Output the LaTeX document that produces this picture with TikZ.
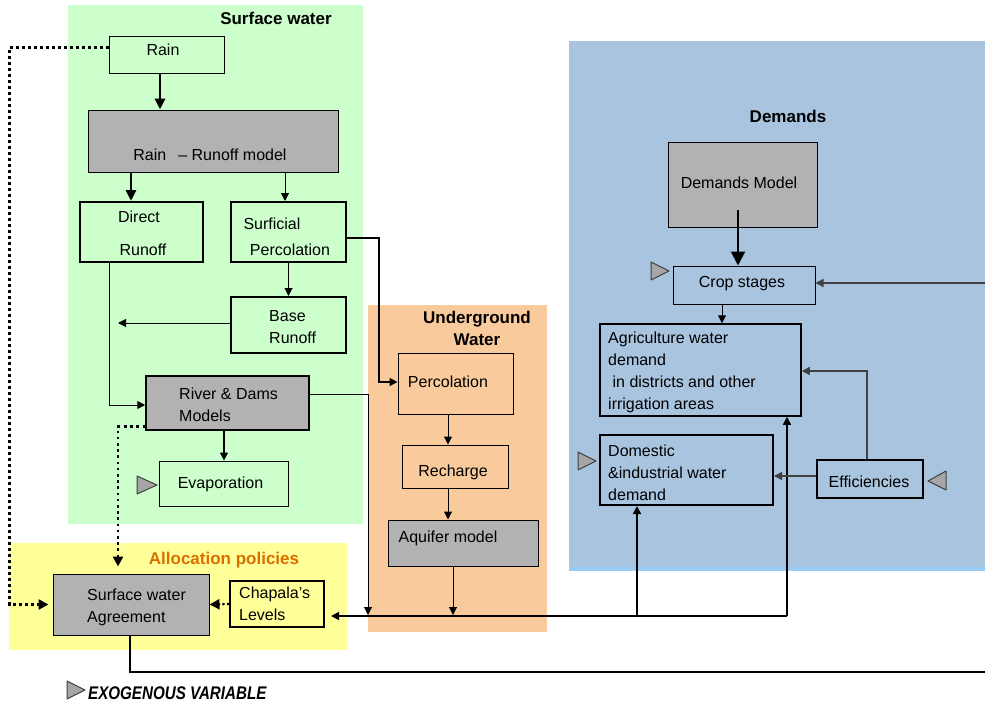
\documentclass[tikz,border=0pt]{standalone}
\usepackage{fontspec}
\setmainfont{Liberation Sans}
\usetikzlibrary{arrows.meta}
\definecolor{swgreen}{HTML}{CCFFCC}
\definecolor{dmblue}{HTML}{A9C4DF}
\definecolor{dmstrip}{HTML}{9CCBF5}
\definecolor{ugorange}{HTML}{F9CA9C}
\definecolor{apyellow}{HTML}{FFFF99}
\definecolor{modgray}{HTML}{B2B2B2}
\definecolor{exogray}{HTML}{A6A6A6}
\definecolor{aporange}{HTML}{DD6E00}
\definecolor{darkline}{HTML}{404040}
\begin{document}
\begin{tikzpicture}[x=1pt,y=-1pt,
  box/.style={draw=black, line width=1pt, inner sep=0pt},
  lbl/.style={inner sep=0pt, font=\fontsize{16}{22}\selectfont},
  ttl/.style={inner sep=0pt, font=\fontsize{17}{22}\selectfont\bfseries, align=center},
  arr/.style={-{Triangle[length=8pt,width=8pt]}, line width=1pt},
  bigarr/.style={-{Triangle[length=11pt,width=10pt]}, line width=2.8pt},
  dotA/.style={line width=3pt, dash pattern=on 3pt off 3pt, -{Triangle[length=10pt,width=10pt]}},
  dotB/.style={line width=2.6pt, dash pattern=on 2.6pt off 3.6pt, -{Triangle[length=10pt,width=10pt]}},
  exo/.style={fill=exogray, draw=darkline, line width=1pt, line join=round}]
\useasboundingbox (0,0) rectangle (985,704);
% panels
\fill[swgreen] (68,5) rectangle (363,524);
\fill[dmblue] (569,41) rectangle (985,567);
\fill[dmstrip] (569,567) rectangle (985,571);
\fill[ugorange] (368,305) rectangle (547,632);
\fill[apyellow] (9,543) rectangle (347,650);
% titles
\node[ttl] (tsw) at (276,18) {Surface water};
\node[ttl] (tdm) at (788,116) {Demands};
\node[ttl] (tug) at (477,328) {Underground\\Water};
\node[ttl, text=aporange] (tap) at (224,560) {Allocation policies};
% boxes
\node[box, fill=swgreen, minimum width=115pt, minimum height=37pt] (rain) at (166.5,54.5) {};
\node[box, fill=modgray, minimum width=250pt, minimum height=62pt] (rr) at (213,141) {};
\node[box, fill=swgreen, line width=2pt, minimum width=123pt, minimum height=60pt] (direct) at (141.5,232) {};
\node[box, fill=swgreen, line width=2pt, minimum width=115pt, minimum height=60pt] (surf) at (288.5,232) {};
\node[box, fill=swgreen, line width=2pt, minimum width=115pt, minimum height=56pt] (base) at (288.5,325) {};
\node[box, fill=modgray, line width=1.5pt, minimum width=163pt, minimum height=54pt] (river) at (227.5,403) {};
\node[box, fill=swgreen, minimum width=129pt, minimum height=45pt] (evap) at (223.5,483.5) {};
\node[box, fill=ugorange, minimum width=115pt, minimum height=61pt] (perc) at (455.5,383.5) {};
\node[box, fill=ugorange, minimum width=106pt, minimum height=43pt] (rech) at (455,466.5) {};
\node[box, fill=modgray, minimum width=150pt, minimum height=46pt] (aq) at (463,543) {};
\node[box, fill=modgray, minimum width=149pt, minimum height=85pt] (dm) at (742.5,184.5) {};
\node[box, fill=dmblue, minimum width=142pt, minimum height=38pt] (crop) at (744,285) {};
\node[box, fill=dmblue, line width=1.5pt, minimum width=201pt, minimum height=92pt] (agri) at (700.5,370) {};
\node[box, fill=dmblue, line width=2pt, minimum width=173pt, minimum height=70pt] (dom) at (686.5,470) {};
\node[box, fill=dmblue, line width=1.5pt, minimum width=106pt, minimum height=38pt] (eff) at (870,479) {};
\node[box, fill=modgray, minimum width=156pt, minimum height=61pt] (agree) at (131,604.5) {};
\node[box, fill=apyellow, line width=2pt, minimum width=94pt, minimum height=46pt] (chap) at (277,604) {};
% texts
\node[lbl] (train) at (163,50) {Rain};
\node[lbl] (trr) at (210,155) {Rain\hspace{12pt}– Runoff model};
\node[lbl] (tdir1) at (139,217) {Direct};
\node[lbl] (tdir2) at (143,250) {Runoff};
\node[lbl] (tsur1) at (272,224) {Surficial};
\node[lbl] (tsur2) at (290,250) {Percolation};
\node[lbl, align=left, anchor=west] (tbase) at (269,327) {Base\\Runoff};
\node[lbl, align=left, anchor=west] (triv) at (179,405) {River \& Dams\\Models};
\node[lbl] (tevap) at (220.5,484) {Evaporation};
\node[lbl] (tperc) at (448,382) {Percolation};
\node[lbl] (trech) at (453,472) {Recharge};
\node[lbl] (taq) at (448,538) {Aquifer model};
\node[lbl] (tdm2) at (739,183) {Demands Model};
\node[lbl] (tcrop) at (742,284) {Crop stages};
\node[lbl, align=left, anchor=west] (tagri) at (608,372.5) {Agriculture water\\demand\\\ in districts and other\\irrigation areas};
\node[lbl, align=left, anchor=west] (tdom) at (608,472.5) {Domestic\\\&industrial water\\demand};
\node[lbl] (teff) at (869,482) {Efficiencies};
\node[lbl, align=left, anchor=west] (tagr) at (87,607) {Surface water\\Agreement};
\node[lbl, align=left, anchor=west] (tchap) at (239,604) {Chapala's\\Levels};
\node[inner sep=0pt, font=\fontsize{15}{16}\selectfont\bfseries\itshape, anchor=west] (texo) at (88,693.5) {\scalebox{1.01}[1.22]{EXOGENOUS VARIABLE}};
% exogenous markers
\draw[exo] (137,476) -- (157,485) -- (137,494) -- cycle;
\draw[exo] (651,262) -- (669,271) -- (651,280) -- cycle;
\draw[exo] (578,452) -- (596,461) -- (578,470) -- cycle;
\draw[exo] (946,471) -- (928,481) -- (946,490) -- cycle;
\draw[exo] (67,681) -- (85,690) -- (67,699) -- cycle;
% free ends
\coordinate (baseend) at (118,323);
\coordinate (riverend) at (368,615);
\coordinate (aqend) at (453,615);
\coordinate (busR) at (787,616);
\coordinate (busM) at (637,616);
\coordinate (rightA) at (985,283);
\coordinate (rightB) at (985,672);
% connectors
\draw[bigarr] ([xshift=-6.5pt]rain.south) -- ([xshift=-53pt]rr.north);
\draw[bigarr] ([xshift=-82pt]rr.south) -- ([xshift=-10.5pt]direct.north);
\draw[arr] ([xshift=72pt]rr.south) -- ([xshift=-3.5pt]surf.north);
\draw[arr, line width=1.5pt] ([yshift=-6pt]surf.east) -- ++(32,0) |- ([yshift=1.5pt]perc.west);
\draw[arr] (surf.south) -- (base.north);
\draw[arr] ([yshift=2pt]base.west) -- (baseend);
\draw[arr] ([xshift=-32.5pt]direct.south) |- ([yshift=-2pt]river.west);
\draw[arr] ([yshift=9pt]river.east) -| (riverend);
\draw[arr, line width=1.5pt] ([xshift=-3.5pt]river.south) -- ([xshift=0.5pt]evap.north);
\draw[dotB] ([yshift=4pt]river.south west) -| ([xshift=-13pt,yshift=7pt]agree.north);
\draw[dotA] ([yshift=7.5pt]rain.west) -| ([xshift=-43pt]agree.west) -- ([xshift=-4pt]agree.west);
\draw[arr] ([xshift=-7.5pt]perc.south) -- ([xshift=-7pt]rech.north);
\draw[arr] ([xshift=-7pt]rech.south) -- ([xshift=-15pt]aq.north);
\draw[arr] ([xshift=-10pt]aq.south) -- (aqend);
\draw[arr, line width=1.5pt] (busR) -- ([xshift=6pt,yshift=-12pt]chap.east);
\draw[arr, line width=1.5pt] (busR) -- ([xshift=86.5pt]agri.south);
\draw[arr, line width=1.5pt] (busM) -- ([xshift=-49.5pt]dom.south);
\draw[dotB, line width=2.2pt, dash pattern=on 2.2pt off 2.2pt] (chap.west) -- (agree.east);
\draw[line width=2pt] ([xshift=-1pt]agree.south) |- (rightB);
\draw[arr, draw=darkline, line width=1.5pt] (rightA) -- ([yshift=2pt]crop.east);
\draw[-{Triangle[length=14pt,width=14pt]}, line width=2pt] ([xshift=-4.5pt,yshift=-25.5pt]dm.center) -- ([xshift=-6pt]crop.north);
\draw[arr] ([xshift=-22pt]crop.south) -- ([xshift=21.5pt]agri.north);
\draw[arr, draw=darkline, line width=1.3pt] ([xshift=-3pt]eff.north) |- ([yshift=-1pt]agri.east);
\draw[arr, draw=darkline, line width=1.3pt] ([yshift=3pt]eff.west) -- ([yshift=-6pt]dom.east);
\end{tikzpicture}
\end{document}
